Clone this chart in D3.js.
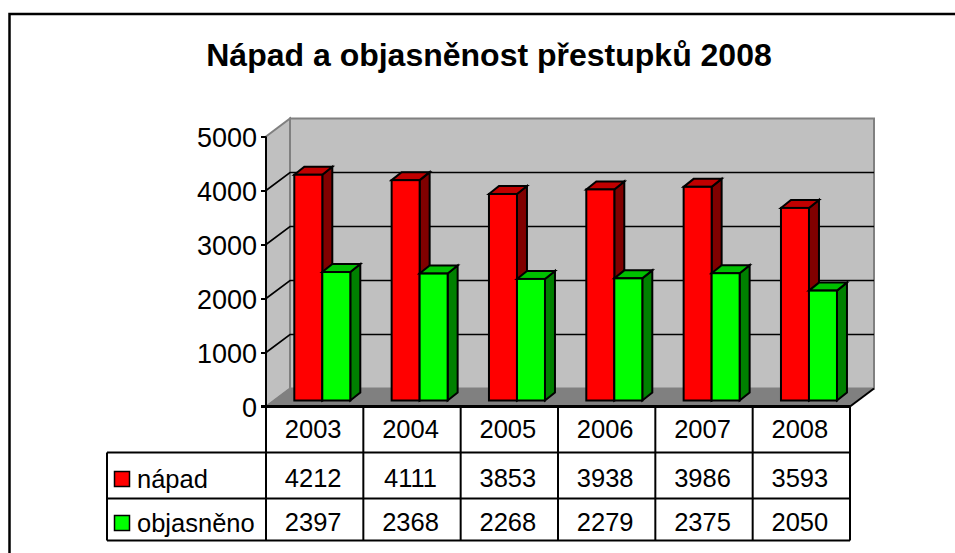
<!DOCTYPE html>
<html><head><meta charset="utf-8">
<script src="https://cdn.jsdelivr.net/npm/d3@7"></script>
<style>html,body{margin:0;padding:0;background:#fff}svg{display:block}text{font-family:"Liberation Sans",Arial,sans-serif;fill:#000}</style>
</head><body><div id="c"></div>
<script>
const years = [2003,2004,2005,2006,2007,2008];
const napad = [4212,4111,3853,3938,3986,3593];
const objasneno = [2397,2368,2268,2279,2375,2050];
const seriesNames = ["nápad","objasněno"];
const yTicks = [0,1000,2000,3000,4000,5000];
const title = "Nápad a objasněnost přestupků 2008";

const W=955,H=553;
const svg=d3.select("#c").append("svg").attr("width",W).attr("height",H);
const FL=266,FR=850,Y0=406.5,Y5=136.5, DX=24,DY=18;
const x=d3.scaleBand().domain(years).range([FL,FR]);
const yAxisScale=d3.scaleLinear().domain([0,5000]).range([Y0,Y5]);
const BASE=400.5;
const yBar=d3.scaleLinear().domain([0,5000]).range([BASE,BASE-268]);
const poly=(pts,fill,stroke,sw)=>svg.append("polygon").attr("points",pts.map(p=>p.join(",")).join(" ")).attr("fill",fill).attr("stroke",stroke||"none").attr("stroke-width",sw||0).attr("stroke-linejoin","miter");

// outer frame
svg.append("path").attr("d",`M9.5,${H} V14 H${W}`).attr("fill","none").attr("stroke","#000").attr("stroke-width",2.5);
svg.append("text").attr("x",489).attr("y",66).attr("text-anchor","middle").attr("font-size",32).attr("font-weight","bold").text(title);

// walls
poly([[FL+DX,Y5-DY],[FR+DX,Y5-DY],[FR+DX,Y0-DY],[FL+DX,Y0-DY]],"#c0c0c0","#808080",2);
poly([[FL,Y5],[FL+DX,Y5-DY],[FL+DX,Y0-DY],[FL,Y0]],"#c0c0c0","#808080",2);
poly([[FL,Y0],[FL+DX,Y0-DY],[FR+DX,Y0-DY],[FR,Y0]],"#808080","#808080",1);
// gridlines
const gridTicks=yTicks.filter(t=>t>0&&t<5000);
svg.append("g").selectAll("path").data(gridTicks).join("path")
  .attr("d",t=>`M${FL},${yAxisScale(t)} L${FL+DX},${yAxisScale(t)-DY} H${FR+DX}`)
  .attr("fill","none").attr("stroke","#000").attr("stroke-width",1.6);
svg.append("path").attr("d",`M${FR},${Y0} L${FR+DX},${Y0-DY}`).attr("stroke","#000").attr("stroke-width",2);

// bars
const BW=28, BDX=10, BDY=8, OFF=28.3;
function bar(x0,v,cFront,cTop,cSide){
  const y=yBar(v);
  const g=svg.append("g").attr("stroke","#000").attr("stroke-width",2).attr("stroke-linejoin","miter");
  const pts=a=>a.map(p=>p.join(",")).join(" ");
  g.append("polygon").attr("points",pts([[x0+BW,y],[x0+BW+BDX,y-BDY],[x0+BW+BDX,BASE-BDY],[x0+BW,BASE]])).attr("fill",cSide);
  g.append("polygon").attr("points",pts([[x0,y],[x0+BDX,y-BDY],[x0+BW+BDX,y-BDY],[x0+BW,y]])).attr("fill",cTop);
  g.append("rect").attr("x",x0).attr("y",y).attr("width",BW).attr("height",BASE-y).attr("fill",cFront);
}
years.forEach((yr,i)=>{
  const x0=x(yr)+OFF;
  bar(x0,napad[i],"#ff0000","#c00000","#800000");
  bar(x0+BW,objasneno[i],"#00ff00","#00c000","#008000");
});

// y axis
const ax=svg.append("g").attr("transform",`translate(${FL},0)`).call(d3.axisLeft(yAxisScale).tickValues(yTicks).tickSize(5).tickPadding(4).tickFormat(d3.format("d")));
ax.selectAll("text").attr("font-size",27).attr("dy",".36em").attr("font-family",'"Liberation Sans",Arial,sans-serif').attr("fill","#000");
ax.selectAll("line").attr("stroke","#000").attr("stroke-width",2);
ax.select(".domain").attr("stroke","#000").attr("stroke-width",2).attr("d",`M${0},${Y5} V${Y0}`);

// data table
const R=[Y0,452.5,498.5,540.5], TL=107;
const line=(x1,y1,x2,y2,sw)=>svg.append("line").attr("x1",x1).attr("y1",y1).attr("x2",x2).attr("y2",y2).attr("stroke","#000").attr("stroke-width",sw);
line(FL-5,Y0,FR,Y0,3);
x.domain().forEach((yr,i)=>line(x(yr),Y0,x(yr),R[3],2));
line(FR,Y0,FR,R[3],2);
line(TL,R[1],FR,R[1],2); line(TL,R[2],FR,R[2],2); line(TL,R[3],FR,R[3],2);
line(TL,R[1],TL,R[3],2);

const cell=(s,cx,cy)=>svg.append("text").attr("x",cx).attr("y",cy).attr("text-anchor","middle").attr("font-size",25.5).text(s);
years.forEach((yr,i)=>{
  const cx=x(yr)+x.bandwidth()/2-1.5;
  cell(yr,cx,438);
  cell(napad[i],cx,486.5);
  cell(objasneno[i],cx,530.5);
});
[["#ff0000",471.5,488],["#00ff00",515.5,532]].forEach((d,i)=>{
  svg.append("rect").attr("x",114.5).attr("y",d[1]).attr("width",15).attr("height",15).attr("fill",d[0]).attr("stroke","#000").attr("stroke-width",1.5);
  svg.append("text").attr("x",137).attr("y",d[2]).attr("font-size",25.5).text(seriesNames[i]);
});
</script></body></html>
